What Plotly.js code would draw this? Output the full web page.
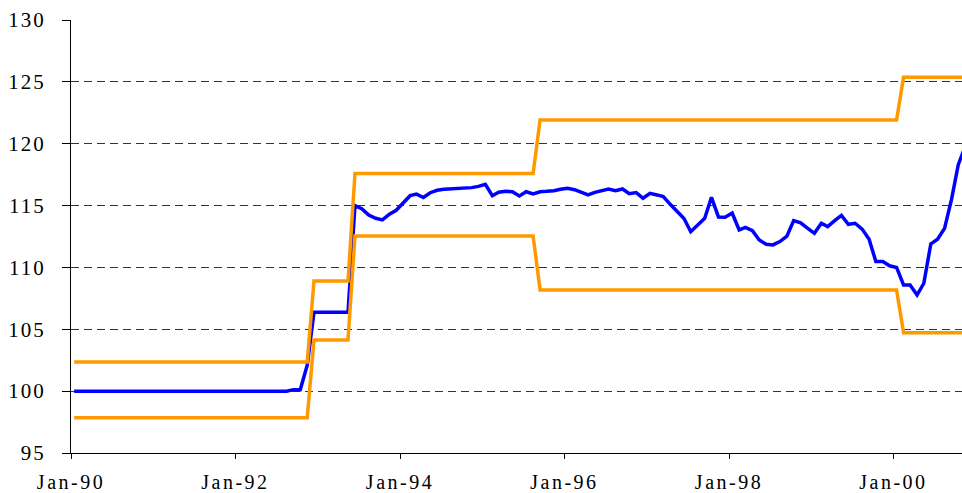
<!DOCTYPE html>
<html>
<head>
<meta charset="utf-8">
<script src="https://cdn.plot.ly/plotly-3.0.1.min.js"></script>
<style>
  html, body { margin: 0; padding: 0; background: #fff; }
  #chart { width: 962px; height: 493px; }
  .xtick text { letter-spacing: 2.5px; }
  .ytick text { letter-spacing: 2px; }
</style>
</head>
<body>
<div id="chart"></div>
<script>
// Monthly data (mid-month observations), Jan-1990 .. Nov-2000
const startYear = 1990;
const obsDay = 15;

const indexValues = [
  // 1990
  100, 100, 100, 100, 100, 100, 100, 100, 100, 100, 100, 100,
  // 1991
  100, 100, 100, 100, 100, 100, 100, 100, 100, 100, 100, 100,
  // 1992
  100, 100, 100, 100, 100, 100, 100, 100.0, 100.12, 100.12, 102.1, 106.37,
  // 1993
  106.37, 106.37, 106.37, 106.37, 106.37, 115.0, 114.75, 114.24, 113.97, 113.84, 114.3, 114.62,
  // 1994
  115.19, 115.8, 115.93, 115.65, 116.04, 116.24, 116.32, 116.34, 116.38, 116.4, 116.45, 116.55,
  // 1995
  116.72, 115.8, 116.08, 116.16, 116.12, 115.78, 116.12, 115.94, 116.12, 116.15, 116.2, 116.32,
  // 1996
  116.4, 116.28, 116.05, 115.86, 116.07, 116.2, 116.33, 116.2, 116.34, 115.96, 116.05, 115.59,
  // 1997
  115.99, 115.86, 115.72, 115.1, 114.55, 113.95, 112.89, 113.43, 113.97, 115.67, 114.08, 114.05,
  // 1998
  114.4, 113.03, 113.23, 112.97, 112.22, 111.87, 111.82, 112.09, 112.52, 113.78, 113.6, 113.18,
  // 1999
  112.76, 113.57, 113.3, 113.78, 114.2, 113.49, 113.57, 113.1, 112.28, 110.47, 110.47, 110.13,
  // 2000
  110.0, 108.58, 108.58, 107.77, 108.72, 111.9, 112.28, 113.16, 115.5, 118.3, 119.8
];

const upperBand = [
  // 1990
  102.35, 102.35, 102.35, 102.35, 102.35, 102.35, 102.35, 102.35, 102.35, 102.35, 102.35, 102.35,
  // 1991
  102.35, 102.35, 102.35, 102.35, 102.35, 102.35, 102.35, 102.35, 102.35, 102.35, 102.35, 102.35,
  // 1992
  102.35, 102.35, 102.35, 102.35, 102.35, 102.35, 102.35, 102.35, 102.35, 102.35, 102.35, 108.9,
  // 1993
  108.9, 108.9, 108.9, 108.9, 108.9, 117.6, 117.6, 117.6, 117.6, 117.6, 117.6, 117.6,
  // 1994
  117.6, 117.6, 117.6, 117.6, 117.6, 117.6, 117.6, 117.6, 117.6, 117.6, 117.6, 117.6,
  // 1995
  117.6, 117.6, 117.6, 117.6, 117.6, 117.6, 117.6, 117.6, 121.92, 121.92, 121.92, 121.92,
  // 1996
  121.92, 121.92, 121.92, 121.92, 121.92, 121.92, 121.92, 121.92, 121.92, 121.92, 121.92, 121.92,
  // 1997
  121.92, 121.92, 121.92, 121.92, 121.92, 121.92, 121.92, 121.92, 121.92, 121.92, 121.92, 121.92,
  // 1998
  121.92, 121.92, 121.92, 121.92, 121.92, 121.92, 121.92, 121.92, 121.92, 121.92, 121.92, 121.92,
  // 1999
  121.92, 121.92, 121.92, 121.92, 121.92, 121.92, 121.92, 121.92, 121.92, 121.92, 121.92, 121.92,
  // 2000
  121.92, 125.37, 125.37, 125.37, 125.37, 125.37, 125.37, 125.37, 125.37, 125.37, 125.37
];

const lowerBand = [
  // 1990
  97.85, 97.85, 97.85, 97.85, 97.85, 97.85, 97.85, 97.85, 97.85, 97.85, 97.85, 97.85,
  // 1991
  97.85, 97.85, 97.85, 97.85, 97.85, 97.85, 97.85, 97.85, 97.85, 97.85, 97.85, 97.85,
  // 1992
  97.85, 97.85, 97.85, 97.85, 97.85, 97.85, 97.85, 97.85, 97.85, 97.85, 97.85, 104.13,
  // 1993
  104.13, 104.13, 104.13, 104.13, 104.13, 112.54, 112.54, 112.54, 112.54, 112.54, 112.54, 112.54,
  // 1994
  112.54, 112.54, 112.54, 112.54, 112.54, 112.54, 112.54, 112.54, 112.54, 112.54, 112.54, 112.54,
  // 1995
  112.54, 112.54, 112.54, 112.54, 112.54, 112.54, 112.54, 112.54, 108.17, 108.17, 108.17, 108.17,
  // 1996
  108.17, 108.17, 108.17, 108.17, 108.17, 108.17, 108.17, 108.17, 108.17, 108.17, 108.17, 108.17,
  // 1997
  108.17, 108.17, 108.17, 108.17, 108.17, 108.17, 108.17, 108.17, 108.17, 108.17, 108.17, 108.17,
  // 1998
  108.17, 108.17, 108.17, 108.17, 108.17, 108.17, 108.17, 108.17, 108.17, 108.17, 108.17, 108.17,
  // 1999
  108.17, 108.17, 108.17, 108.17, 108.17, 108.17, 108.17, 108.17, 108.17, 108.17, 108.17, 108.17,
  // 2000
  108.17, 104.72, 104.72, 104.72, 104.72, 104.72, 104.72, 104.72, 104.72, 104.72, 104.72
];

const yTickValues = [95, 100, 105, 110, 115, 120, 125, 130];

// Monthly dates matching the series
const dates = indexValues.map(function (_, i) {
  const y = startYear + Math.floor(i / 12);
  const m = (i % 12) + 1;
  return y + '-' + (m < 10 ? '0' + m : m) + '-' + obsDay;
});

const fontFamily = '"Liberation Serif", "Times New Roman", Times, serif';

const traces = [
  {
    x: dates, y: indexValues, type: 'scatter', mode: 'lines',
    line: { color: '#0000FF', width: 3.5 }, hoverinfo: 'skip', cliponaxis: true
  },
  {
    x: dates, y: upperBand, type: 'scatter', mode: 'lines',
    line: { color: '#FF9900', width: 3.5 }, hoverinfo: 'skip', cliponaxis: true
  },
  {
    x: dates, y: lowerBand, type: 'scatter', mode: 'lines',
    line: { color: '#FF9900', width: 3.5 }, hoverinfo: 'skip', cliponaxis: true
  }
];

const layout = {
  width: 962, height: 493,
  margin: { l: 71, r: 0, t: 20, b: 40, pad: 0 },
  paper_bgcolor: '#ffffff', plot_bgcolor: '#ffffff',
  showlegend: false,
  hovermode: false,
  font: { family: fontFamily, size: 21, color: '#000000' },
  xaxis: {
    type: 'date',
    range: ['1990-01-01', '2000-10-31 12:00'],
    tick0: '1990-01-01', dtick: 'M24', tickformat: '%b-%y',
    showgrid: false, zeroline: false,
    showline: true, linecolor: '#000000', linewidth: 1,
    ticks: 'outside', ticklen: 5, tickcolor: '#000000', tickwidth: 1,
    ticklabelstandoff: 6,
    tickfont: { family: fontFamily, size: 20, color: '#000000' }
  },
  yaxis: {
    range: [95, 130],
    tickvals: yTickValues,
    showgrid: true, gridcolor: '#333333', gridwidth: 1, griddash: '8px,5px',
    zeroline: false,
    showline: true, linecolor: '#000000', linewidth: 1,
    ticks: 'outside', ticklen: 8, tickcolor: '#000000', tickwidth: 1,
    ticklabelstandoff: 12,
    tickfont: { family: fontFamily, size: 21, color: '#000000' }
  }
};

Plotly.newPlot('chart', traces, layout, { displayModeBar: false, staticPlot: true });
</script>
</body>
</html>
